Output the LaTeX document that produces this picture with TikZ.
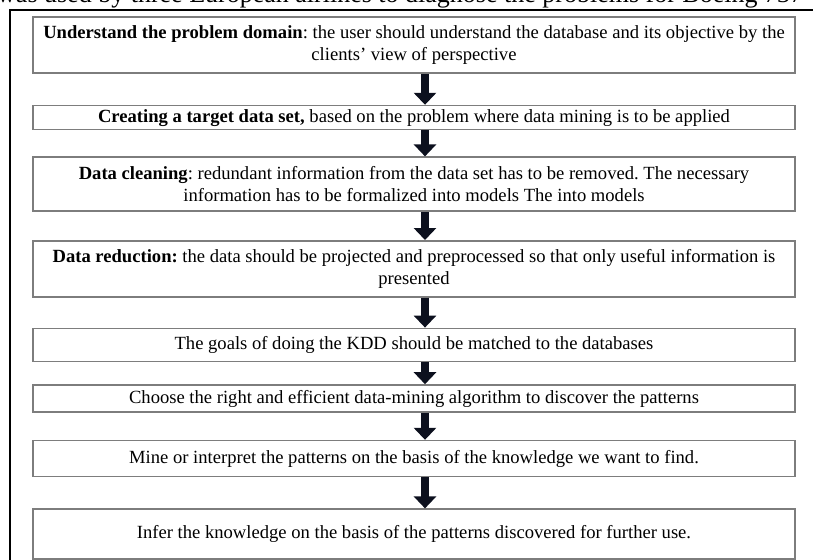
\documentclass[tikz,border=0pt]{standalone}
\usepackage{fontspec}
\setmainfont{Liberation Serif}
\usepackage{tikz}
\usetikzlibrary{positioning, arrows.meta}

\definecolor{boxgray}{RGB}{125,125,125}
\definecolor{arrowink}{RGB}{12,16,30}

\begin{document}
\begin{tikzpicture}[x=1pt, y=-1pt, node distance=30pt,
    stepbox/.style={draw=boxgray, line width=1.6pt, minimum width=762pt, align=center, inner xsep=3pt, inner ysep=1pt, font=\fontsize{18.6pt}{22pt}\selectfont\frenchspacing},
    flow/.style={draw=arrowink, line width=8pt, -{Triangle[width=22pt, length=12pt]}}]
    \useasboundingbox (0,0) rectangle (813,559);
    \clip (0,0) rectangle (813,559);

    % Caption line cut by the page
    \node [anchor=base west, inner sep=0pt, font=\fontsize{26pt}{30pt}\selectfont] (cap) at (-3,3) {was used by three European airlines to diagnose the problems for Boeing 737};

    % Frame
    \draw [line width=2pt] (10,600) |- (900,10);

    % Steps
    \node [stepbox, minimum height=56pt] (domain) at (414,45) {\textbf{Understand the problem domain}: the user should understand the database and its objective by the\\clients’ view of perspective};
    \node [stepbox, minimum height=24pt, below=31pt of domain] (target) {\textbf{Creating a target data set,} based on the problem where data mining is to be applied};
    \node [stepbox, minimum height=54pt, below=26pt of target] (clean) {\textbf{Data cleaning}: redundant information from the data set has to be removed. The necessary\\information has to be formalized into models The into models};
    \node [stepbox, minimum height=56pt, below=28pt of clean] (reduce) {\textbf{Data reduction:} the data should be projected and preprocessed so that only useful information is\\presented};
    \node [stepbox, minimum height=33pt, below=30pt of reduce] (goals) {The goals of doing the KDD should be matched to the databases};
    \node [stepbox, minimum height=27pt, below=22pt of goals] (algo) {Choose the right and efficient data-mining algorithm to discover the patterns};
    \node [stepbox, minimum height=36pt, below=27pt of algo] (mine) {Mine or interpret the patterns on the basis of the knowledge we want to find.};
    \node [stepbox, minimum height=50pt, below=31pt of mine] (infer) {Infer the knowledge on the basis of the patterns discovered for further use.};

    % Arrows
    \draw [flow] ([xshift=11pt]domain.south) -- ([xshift=11pt]target.north);
    \draw [flow] ([xshift=11pt]target.south) -- ([xshift=11pt]clean.north);
    \draw [flow] ([xshift=11pt]clean.south) -- ([xshift=11pt]reduce.north);
    \draw [flow] ([xshift=11pt]reduce.south) -- ([xshift=11pt]goals.north);
    \draw [flow] ([xshift=11pt]goals.south) -- ([xshift=11pt]algo.north);
    \draw [flow] ([xshift=11pt]algo.south) -- ([xshift=11pt]mine.north);
    \draw [flow] ([xshift=11pt]mine.south) -- ([xshift=11pt]infer.north);
\end{tikzpicture}
\end{document}
